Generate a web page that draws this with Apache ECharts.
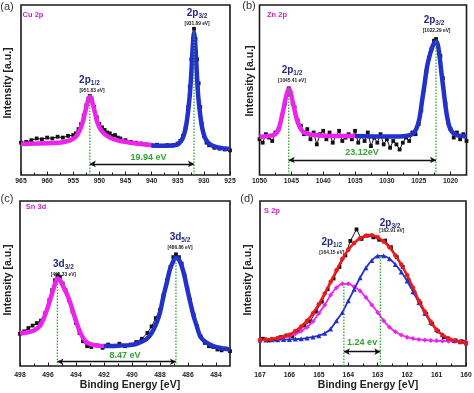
<!DOCTYPE html>
<html><head><meta charset="utf-8">
<script src="https://cdn.jsdelivr.net/npm/echarts@6/dist/echarts.min.js"></script>
<style>html,body{margin:0;padding:0;background:#fff}#c{width:474px;height:393px}</style>
</head><body><div id="c"></div>
<script>
// ---------- DATA ----------
// (a) Cu 2p
const cuTicks = [965,960,955,950,945,940,935,930,925];
const cuMinor = [962.5,957.5,952.5,947.5,942.5,937.5,932.5,927.5];
const cuRaw = [[965,19],[964,19.5],[963,20.5],[962,21.5],[961,21],[960,22],[959,21.5],[958,22.5],[957,22],[956,23],[955,23.5],[954.5,24.5],[954,27],[953.5,30],[953,35],[952.5,41],[952.1,45],[951.83,46.5],[951.5,45],[951,40],[950.5,34],[950,30],[949.5,28],[949,26.5],[948.5,25],[948,24.5],[947.5,23],[947,23.5],[946.5,22],[946,21.5],[945,20.5],[944,19.5],[943,19],[942,18.5],[941,18],[940,17.5],[939,17.8],[938,17.2],[937,17.6],[936,17.4],[935,18.5],[934.5,20],[934,23],[933.5,28],[933,40],[932.7,52],[932.4,68],[932.1,80],[931.89,86],[931.6,80],[931.3,68],[931,54],[930.7,40],[930.4,30],[930,23],[929.5,19],[929,17.5],[928,16],[927,15.5],[926,15],[925,14.5]];
const cuFit1 = [[965,18.3],[962,18.5],[959,18.8],[957,19.3],[955.5,20.5],[954.5,22.5],[953.8,26],[953.2,31],[952.8,36],[952.4,41],[952.1,44.5],[951.83,46],[951.5,44.5],[951.2,41],[950.8,36],[950.4,31],[949.8,27],[949,24],[948,22],[947,20.8],[946,20],[944,19],[942,18.2],[940,17.6]];
const cuFit2 = [[940,17.4],[938,17.2],[936,17.4],[935,18],[934.5,19.5],[934,22],[933.6,26],[933.3,31],[933,38],[932.7,47],[932.4,60],[932.2,72],[932.0,81],[931.89,84],[931.75,81],[931.55,72],[931.35,60],[931.1,47],[930.8,38],[930.5,31],[930.2,26],[929.8,22],[929.3,19.5],[928.8,18],[928,16.8],[927,16],[926,15.6],[925,15.3]];
const cuPeaks = [951.83, 931.89];
const cuPeakTops = [46, 85];
const cuPeakNames = ['2p|1/2', '2p|3/2'];
const cuPeakTexts = ['[951.83 eV]', '[931.89 eV]'];
const cuSplit = '19.94 eV';

// (b) Zn 2p
const znTicks = [1050,1045,1040,1035,1030,1025,1020];
const znMinor = [1047.5,1042.5,1037.5,1032.5,1027.5,1022.5];
const znRaw = [[1050,21],[1049.5,19],[1049,24],[1048.5,22],[1048,20],[1047.5,25],[1047,27],[1046.5,35],[1046,42],[1045.7,47],[1045.41,51],[1045.1,48],[1044.8,42],[1044.5,40],[1044,32],[1043.5,29],[1043,24],[1042.5,27],[1042,21],[1041.5,25],[1041,18],[1040.5,24],[1040,26],[1039.5,21],[1039,25],[1038.5,19],[1038,23],[1037.5,26],[1037,20],[1036.5,22],[1036,24],[1035.5,21],[1035,26],[1034.5,19],[1034,23],[1033.5,20],[1033,25],[1032.5,17],[1032,22],[1031.5,19],[1031,24],[1030.5,18],[1030,21],[1029.5,16],[1029,20],[1028.5,18],[1028,15],[1027.5,19],[1027,22],[1026.5,20],[1026,25],[1025.5,24],[1025,30],[1024.6,38],[1024.2,50],[1023.8,61],[1023.4,69],[1023,74],[1022.6,79],[1022.29,80],[1022,76],[1021.6,70],[1021.2,57],[1020.8,42],[1020.4,31],[1020,27],[1019.5,22],[1019,25],[1018.5,21],[1018,24],[1017.5,20]];
const znFit1 = [[1050,22.5],[1049,22.8],[1048,23.3],[1047.5,24],[1047,27],[1046.6,32.5],[1046.2,39.5],[1045.9,45],[1045.6,49],[1045.41,50.4],[1045.2,49.5],[1044.9,45],[1044.6,40],[1044.3,35],[1044,31],[1043.5,27],[1043,25],[1042,23.8],[1040.5,23.3],[1038,23],[1035,22.9]];
const znFit2 = [[1035,22.9],[1032,22.7],[1029,22.6],[1027,23],[1026,24],[1025.4,27],[1024.9,33],[1024.5,43],[1024.1,53],[1023.7,63.5],[1023.3,70],[1022.9,75],[1022.6,77.5],[1022.29,78.5],[1022,76.5],[1021.7,69],[1021.4,59],[1021.1,50],[1020.8,40.5],[1020.5,33.5],[1020.2,28.5],[1019.8,25.5],[1019.3,24],[1018.5,23],[1017.5,22.7]];
const znPeaks = [1045.41, 1022.29];
const znPeakTops = [50.4, 78.5];
const znPeakNames = ['2p|1/2', '2p|3/2'];
const znPeakTexts = ['[1045.41 eV]', '[1022.29 eV]'];
const znSplit = '23.12eV';

// (c) Sn 3d
const snTicks = [498,496,494,492,490,488,486,484];
const snMinor = [497,495,493,491,489,487,485];
const snRaw = [[498,19.5],[497.7,21],[497.4,23],[497.1,24.5],[496.8,26],[496.5,27.5],[496.2,32],[495.9,40],[495.7,46],[495.5,52],[495.33,55],[495.15,54],[494.95,50],[494.75,46],[494.5,40],[494.25,33],[494,26],[493.75,20],[493.5,15],[493.2,12],[492.9,11.5],[492.5,12.5],[492.1,11],[491.7,13],[491.3,12],[490.9,13.5],[490.5,12],[490.1,13],[489.7,14.5],[489.3,16.5],[488.9,20],[488.6,24],[488.3,29],[488,34],[487.75,43],[487.5,52],[487.25,60],[487.05,66],[486.86,67.7],[486.65,66],[486.45,62],[486.25,55],[486.05,47],[485.85,40],[485.6,31],[485.35,24],[485.1,18],[484.8,14],[484.5,12],[484.2,11.5],[483.9,10],[483.6,9.5],[483.3,10.5],[483,9]];
const snFit1 = [[498,19.8],[497.5,20.3],[497,21.5],[496.6,24],[496.3,29],[496,36],[495.8,41.5],[495.6,47],[495.45,51],[495.33,53],[495.15,52],[494.9,48],[494.67,44],[494.4,38],[494.19,32.3],[493.95,26],[493.71,20.5],[493.45,16.5],[493.2,14.2],[492.8,12.8],[492.3,12.2],[492,12.1]];
const snFit2 = [[492,12.1],[491,12.3],[490,12.8],[489.5,14],[489,16],[488.6,20],[488.24,26.3],[488,32.5],[487.76,42],[487.5,51],[487.29,58.6],[487.05,63.5],[486.86,65.7],[486.65,64.5],[486.45,60.6],[486.25,54.5],[486.1,48.5],[485.85,39],[485.6,30.3],[485.35,23.5],[485.14,18.2],[484.8,14.8],[484.2,12.1],[483.6,10.8],[483,10]];
const snPeaks = [495.33, 486.86];
const snPeakTops = [53, 65.7];
const snPeakNames = ['3d|3/2', '3d|5/2'];
const snPeakTexts = ['[495.33 eV]', '[486.86 eV]'];
const snSplit = '8.47 eV';

// (d) S 2p
const sTicks = [167,166,165,164,163,162,161,160];
const sMinor = [166.5,165.5,164.5,163.5,162.5,161.5,160.5];
const sRaw = [[166.9,16.5],[166.7,15.5],[166.5,16],[166.3,17.5],[166.1,18.5],[165.9,18],[165.7,21],[165.5,24.5],[165.3,27],[165.1,33],[164.9,39],[164.7,46.5],[164.5,53],[164.3,60],[164.1,67],[163.93,75.8],[163.72,82.8],[163.55,77],[163.35,79],[163.15,78],[162.95,76.5],[162.75,76],[162.55,72],[162.35,66],[162.15,60],[161.95,52],[161.75,44.5],[161.55,38],[161.35,31.5],[161.15,25.5],[160.95,21],[160.75,17.5],[160.55,16],[160.35,15.5],[160.15,15],[160.05,14.5]];
const sFitX = [167,166.8,166.6,166.4,166.2,166.0,165.8,165.6,165.4,165.2,165.0,164.8,164.6,164.4,164.2,164.0,163.8,163.6,163.4,163.2,163.0,162.8,162.6,162.4,162.2,162.0,161.8,161.6,161.4,161.2,161.0,160.8,160.6,160.4,160.2,160.0];
const sFit1Y = [15.8,15.9,16.1,16.5,17.2,18.2,19.5,21.2,23.5,27,32,37,43,47.5,49.8,49.8,48,45.5,41.5,37,32.5,27.5,23.5,20.8,18.8,17.5,16.6,16.1,15.8,15.5,15.3,15.2,15.0,14.8,14.7,14.5];
const sFit2Y = [15.8,15.8,15.9,15.9,16.0,16.1,16.3,16.5,17.0,17.6,18.4,19.8,22.5,27.5,32.5,39.5,46.5,53.5,59.5,64,66.7,66.8,65,61.5,57,51.5,45,38.5,32,26.5,22,19,17,15.5,14.7,14.0];
const sEnvY = [15.8,16,16.4,17,17.8,19,21.2,24,27.5,32,37.5,44,51,58,65,70.5,74.5,77.5,79,79.2,78,75.5,72,67,61.5,55,47.5,39.5,33,27,22,18.8,16.8,15.5,14.7,14.0];
const sPeaks = [164.15, 162.91];
const sPeakTops = [50, 67];
const sPeakNames = ['2p|1/2', '2p|3/2'];
const sPeakTexts = ['[164.15 eV]', '[162.91 eV]'];
const sSplit = '1.24 ev';

const panelTags = ['(a)','(b)','(c)','(d)'];
const elementNames = ['Cu 2p','Zn 2p','Sn 3d','S 2p'];
const yTitle = 'Intensity [a.u.]';
const xTitle = 'Binding Energy [eV]';

// ---------- LAYOUT / STYLE ----------
const FONT = '"Liberation Sans", Arial, sans-serif';
const MAG = '#ee22ee', BLUE = '#2230cc', RED = '#ee1a1a', GREEN = '#2fa52f', NAVY = '#252a80';
const zipXY = (xs, ys) => xs.map((x, i) => [x, ys[i]]);

const panels = [
  {grid:{left:21, top:5, width:209, height:170}, min:925, max:965, ticks:cuTicks, minor:cuMinor, lm:3,
   raw:cuRaw, fit1:cuFit1, fit2:cuFit2, env:null, sym:false,
   peaks:cuPeaks, tops:cuPeakTops, names:cuPeakNames, texts:cuPeakTexts, split:cuSplit,
   namePos:[[951.9,56],[931.3,95.3]], textPos:[[951.4,49.4],[931.3,88.8]], arrowY:6.5, splitPos:[940.6,10.2]},
  {grid:{left:259.5, top:5, width:207, height:170}, min:1017.5, max:1050, ticks:znTicks, minor:znMinor, lm:3,
   raw:znRaw, fit1:znFit1, fit2:znFit2, env:null, sym:false,
   peaks:znPeaks, tops:znPeakTops, names:znPeakNames, texts:znPeakTexts, split:znSplit,
   namePos:[[1044.9,61.8],[1022.6,90.8]], textPos:[[1044.9,55.3],[1022.2,84.9]], arrowY:8.8, splitPos:[1033.9,13.2]},
  {grid:{left:20, top:201, width:210, height:165}, min:483, max:498, ticks:snTicks, minor:snMinor, lm:6,
   raw:snRaw, fit1:snFit1, fit2:snFit2, env:null, sym:false,
   peaks:snPeaks, tops:snPeakTops, names:snPeakNames, texts:snPeakTexts, split:snSplit,
   namePos:[[494.9,61.6],[486.57,77.8]], textPos:[[494.9,55.6],[486.57,71.7]], arrowY:2.6, splitPos:[490.5,6.6]},
  {grid:{left:260, top:201, width:206, height:165}, min:160, max:167, ticks:sTicks, minor:sMinor, lm:6,
   raw:sRaw, fit1:zipXY(sFitX, sFit1Y), fit2:zipXY(sFitX, sFit2Y), env:zipXY(sFitX, sEnvY), sym:true,
   peaks:sPeaks, tops:sPeakTops, names:sPeakNames, texts:sPeakTexts, split:sSplit,
   namePos:[[164.56,75.3],[162.58,86.8]], textPos:[[164.56,68.7],[162.52,81.8]], arrowY:8.7, splitPos:[163.53,14.3]}
];

const grids = [], xAxes = [], yAxes = [], series = [];
panels.forEach((p, i) => {
  grids.push(Object.assign({show:true, borderColor:'#1a1a1a', borderWidth:1.6, backgroundColor:'transparent', containLabel:false, outerBoundsMode:'none'}, p.grid));
  xAxes.push({gridIndex:i, type:'value', inverse:true, position:'bottom', min:p.min, max:p.max,
    axisLine:{show:false}, splitLine:{show:false},
    axisTick:{show:true, inside:true, length:3.5, customValues:p.ticks, lineStyle:{color:'#1a1a1a', width:1}},
    axisLabel:{show:true, customValues:p.ticks, formatter:v => String(v), margin:p.lm, fontSize:6.8, fontWeight:'bold', color:'#222', fontFamily:FONT, hideOverlap:false}});
  xAxes.push({gridIndex:i, type:'value', inverse:true, position:'bottom', offset:0, min:p.min, max:p.max,
    axisLine:{show:false}, splitLine:{show:false},
    axisTick:{show:true, inside:true, length:2.5, customValues:p.minor, lineStyle:{color:'#1a1a1a', width:1}},
    axisLabel:{show:false}});
  yAxes.push({gridIndex:i, type:'value', min:0, max:100, show:false});
  const xi = 2*i, yi = i;
  // raw data
  series.push({type:'line', xAxisIndex:xi, yAxisIndex:yi, data:p.raw, symbol:'rect', symbolSize:3.8, showSymbol:true,
    itemStyle:{color:'#111'}, lineStyle:{color:'#111', width:1}, z:2});
  if (!p.env) {
    series.push({type:'line', xAxisIndex:xi, yAxisIndex:yi, data:p.fit1.concat(p.fit2), smooth:0.3, showSymbol:false,
      lineStyle:{color:RED, width:1.2}, z:3});
  }
  series.push({type:'line', xAxisIndex:xi, yAxisIndex:yi, data:p.fit1, smooth:0.3, showSymbol:p.sym, symbol:'diamond', symbolSize:5,
    itemStyle:{color:MAG}, lineStyle:{color:MAG, width:p.sym?1.8:4.5}, z:4});
  series.push({type:'line', xAxisIndex:xi, yAxisIndex:yi, data:p.fit2, smooth:0.3, showSymbol:p.sym, symbol:'triangle', symbolSize:5,
    itemStyle:{color:BLUE}, lineStyle:{color:BLUE, width:p.sym?1.8:4.5}, z:5});
  if (p.env) {
    series.push({type:'line', xAxisIndex:xi, yAxisIndex:yi, data:p.env, smooth:0.3, showSymbol:true, symbol:'circle', symbolSize:4.5,
      itemStyle:{color:RED}, lineStyle:{color:RED, width:2.5}, z:6});
  }
  // dotted peak lines
  p.peaks.forEach((x, k) => {
    series.push({type:'line', xAxisIndex:xi, yAxisIndex:yi, data:[[x,0],[x,p.tops[k]]], showSymbol:false,
      lineStyle:{color:GREEN, width:1.3, type:[1.5,1.5]}, z:7});
  });
  // annotations
  const rich = {
    m:{fontSize:10, fontWeight:'bold', color:NAVY, fontFamily:FONT, lineHeight:13},
    s:{fontSize:6.5, fontWeight:'bold', color:NAVY, fontFamily:FONT, lineHeight:7, verticalAlign:'bottom'}
  };
  const mp = [];
  p.names.forEach((n, k) => {
    const parts = n.split('|');
    mp.push({coord:p.namePos[k], label:{formatter:'{m|' + parts[0] + '}{s|' + parts[1] + '}', rich:rich}});
    mp.push({coord:p.textPos[k], label:{formatter:p.texts[k], fontSize:4.8, fontWeight:'bold', color:'#222', fontFamily:FONT}});
  });
  mp.push({coord:p.splitPos, label:{formatter:p.split, fontSize:9, fontWeight:'bold', color:GREEN, fontFamily:FONT}});
  series.push({type:'scatter', xAxisIndex:xi, yAxisIndex:yi, data:[[p.peaks[0], p.arrowY]], symbolSize:0, z:8, silent:true,
    markLine:{silent:true, symbol:['arrow','arrow'], symbolSize:[5,6], label:{show:false},
      lineStyle:{color:'#111', width:1.3, type:'solid'},
      data:[[{coord:[p.peaks[0], p.arrowY]},{coord:[p.peaks[1], p.arrowY]}]]},
    markPoint:{silent:true, symbol:'circle', symbolSize:0, itemStyle:{color:'transparent'},
      label:{show:true, position:'inside'}, data:mp}});
});

const graphics = [];
const tagPos = [[7,7],[249,6],[7,199],[247,199]];
const elemPos = [[33,15],[277,15],[36,207],[272,211]];
const yTitlePos = [[8,83],[250,81],[8,280],[248,280]];
panelTags.forEach((t, i) => {
  graphics.push({type:'text', x:tagPos[i][0], y:tagPos[i][1], style:{text:t, font:'11px ' + FONT, fill:'#333', align:'center', verticalAlign:'middle'}});
  graphics.push({type:'text', x:elemPos[i][0], y:elemPos[i][1], style:{text:elementNames[i], font:'bold 7.5px ' + FONT, fill:'#cc22cc', align:'center', verticalAlign:'middle'}});
  graphics.push({type:'text', x:yTitlePos[i][0], y:yTitlePos[i][1], rotation:Math.PI/2, style:{text:yTitle, font:'bold 10.5px ' + FONT, fill:'#222', align:'center', verticalAlign:'middle'}});
});
graphics.push({type:'text', x:130, y:385, style:{text:xTitle, font:'bold 10.5px ' + FONT, fill:'#222', align:'center', verticalAlign:'middle'}});
graphics.push({type:'text', x:368, y:385, style:{text:xTitle, font:'bold 10.5px ' + FONT, fill:'#222', align:'center', verticalAlign:'middle'}});

const chart = echarts.init(document.getElementById('c'), null, {renderer:'canvas'});
chart.setOption({
  animation:false,
  backgroundColor:'#fff',
  grid:grids, xAxis:xAxes, yAxis:yAxes, series:series, graphic:graphics
});
</script></body></html>
